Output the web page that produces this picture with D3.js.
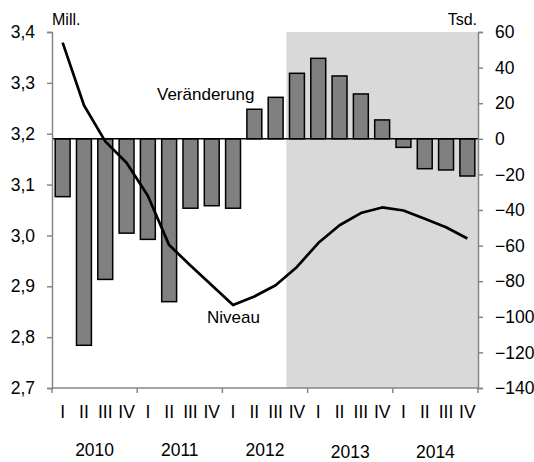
<!DOCTYPE html>
<html>
<head>
<meta charset="utf-8">
<script src="https://cdn.jsdelivr.net/npm/d3@7"></script>
<style>
  body { margin: 0; background: #fff; }
  svg text { font-family: "Liberation Sans", Arial, sans-serif; fill: #000; }
</style>
</head>
<body>
<div id="chart"></div>
<script>
// Quarters 2010 I .. 2014 IV
var years = ["2010", "2011", "2012", "2013", "2014"];
var quarterNames = ["I", "II", "III", "IV"];
// Veränderung (Tsd.), right axis
var change = [-32.5, -116, -79, -53, -56.5, -91.5, -39, -37.6, -39, 16.6,
              23.3, 36.8, 45.2, 35.3, 25.2, 10.6, -4.8, -16.8, -17.5, -20.9];
// Niveau (Mill.), left axis
var level = [3.379, 3.256, 3.185, 3.143, 3.078, 2.981, 2.941, 2.902, 2.863, 2.880,
             2.902, 2.938, 2.985, 3.020, 3.044, 3.055, 3.049, 3.033, 3.016, 2.994];
var leftTicks = [2.7, 2.8, 2.9, 3.0, 3.1, 3.2, 3.3, 3.4];
var rightTicks = [-140, -120, -100, -80, -60, -40, -20, 0, 20, 40, 60];
var shadeFrom = 11; // 2012 IV onwards

var W = 534, H = 462;
var mLeft = 52, mRight = 478, mTop = 32, mBottom = 388;
var tickFont = 17.5, labelFont = 17;

var keys = [];
years.forEach(function (y) {
    quarterNames.forEach(function (q) { keys.push(y + "-" + q); });
});

var svg = d3.select("#chart").append("svg")
    .attr("width", W)
    .attr("height", H);

var x = d3.scaleBand().domain(keys).range([mLeft, mRight]).paddingInner(0.3).paddingOuter(0.15);
var yL = d3.scaleLinear().domain([2.7, 3.4]).range([mBottom, mTop]);
var yR = d3.scaleLinear().domain([-140, 60]).range([mBottom, mTop]);
var fmt = function (d) { return d3.format(".1f")(d).replace(".", ","); };
// year boundaries, in quarters
var qScale = d3.scaleLinear().domain([0, keys.length]).range([mLeft, mRight]);

// shaded area
svg.append("rect")
    .attr("x", qScale(shadeFrom))
    .attr("y", yR(60))
    .attr("width", mRight - qScale(shadeFrom))
    .attr("height", mBottom - yR(60))
    .attr("fill", "#d9d9d9");

// bars
svg.append("g").selectAll("rect")
    .data(change)
    .enter().append("rect")
    .attr("x", function (d, i) { return x(keys[i]); })
    .attr("width", x.bandwidth())
    .attr("y", function (d) { return yR(Math.max(0, d)); })
    .attr("height", function (d) { return Math.abs(yR(d) - yR(0)); })
    .attr("fill", "#808080")
    .attr("stroke", "#000")
    .attr("stroke-width", 1.5);

// zero line
svg.append("line")
    .attr("x1", mLeft).attr("x2", mRight)
    .attr("y1", yR(0)).attr("y2", yR(0))
    .attr("stroke", "#000").attr("stroke-width", 1.5);

// level line
var line = d3.line()
    .x(function (d, i) { return x(keys[i]) + x.bandwidth() / 2; })
    .y(function (d) { return yL(d); });
svg.append("path")
    .datum(level)
    .attr("d", line)
    .attr("fill", "none")
    .attr("stroke", "#000")
    .attr("stroke-width", 2.7)
    .attr("stroke-linejoin", "round");

// axes
var axisColor = "#868686";
var gL = svg.append("g")
    .attr("transform", "translate(" + mLeft + ",0)")
    .call(d3.axisLeft(yL).tickValues(leftTicks).tickFormat(fmt).tickSize(5).tickPadding(12));
var gR = svg.append("g")
    .attr("transform", "translate(" + mRight + ",0)")
    .call(d3.axisRight(yR).tickValues(rightTicks).tickSize(5).tickPadding(12));
[gL, gR].forEach(function (g) {
    g.select(".domain").attr("stroke", axisColor).attr("stroke-width", 1.5);
    g.selectAll(".tick line").attr("stroke", axisColor).attr("stroke-width", 1.5);
    g.selectAll(".tick text")
        .attr("font-size", tickFont)
        .attr("font-family", "Liberation Sans, Arial, sans-serif");
});

// x axis
svg.append("line")
    .attr("x1", mLeft).attr("x2", mRight)
    .attr("y1", mBottom).attr("y2", mBottom)
    .attr("stroke", axisColor).attr("stroke-width", 1.5);
svg.append("g").selectAll("line")
    .data(d3.range(0, keys.length + 1, 4))
    .enter().append("line")
    .attr("x1", function (d) { return qScale(d); })
    .attr("x2", function (d) { return qScale(d); })
    .attr("y1", mBottom).attr("y2", mBottom + 5)
    .attr("stroke", axisColor).attr("stroke-width", 1.5);

svg.append("g").selectAll("text")
    .data(keys)
    .enter().append("text")
    .attr("x", function (d) { return x(d) + x.bandwidth() / 2; })
    .attr("y", 418)
    .attr("text-anchor", "middle")
    .attr("font-size", tickFont)
    .text(function (d) { return d.split("-")[1]; });

svg.append("g").selectAll("text")
    .data(years)
    .enter().append("text")
    .attr("x", function (d, i) { return qScale(i * 4 + 2); })
    .attr("y", function (d, i) { return i >= 3 ? 458 : 456; })
    .attr("text-anchor", "middle")
    .attr("font-size", tickFont)
    .text(function (d) { return d; });

// unit labels
svg.append("text").attr("x", 52).attr("y", 25).attr("font-size", labelFont - 1).text("Mill.");
svg.append("text").attr("x", 477).attr("y", 25).attr("text-anchor", "end").attr("font-size", labelFont - 1).text("Tsd.");

// series labels
svg.append("text").attr("x", 157).attr("y", 100).attr("font-size", labelFont).text("Veränderung");
svg.append("text").attr("x", 207).attr("y", 323).attr("font-size", labelFont).text("Niveau");
</script>
</body>
</html>
